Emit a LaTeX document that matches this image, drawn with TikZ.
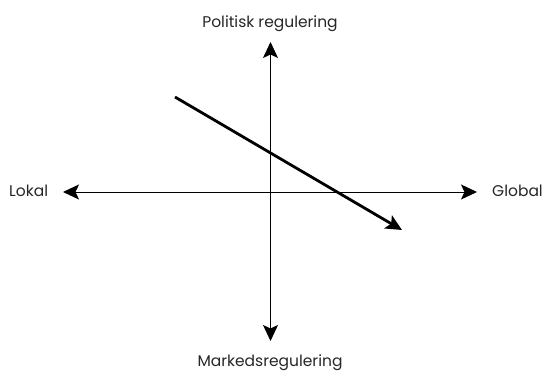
\documentclass[tikz,border=0pt]{standalone}
\usepackage{fontspec}
\setmainfont{Poppins}
\usetikzlibrary{arrows.meta}
\begin{document}
\begin{tikzpicture}[x=1pt,y=-1pt,
  axis/.style={line width=0.9pt,-{Stealth[length=16pt,width=15pt,inset=3.5pt]}},
  trend/.style={line width=2.8pt,-{Stealth[length=16pt,width=15pt,inset=3.5pt]}},
  lbl/.style={font=\fontsize{15.5}{18}\selectfont,inner sep=0pt,text=black!85}]
\useasboundingbox (0,0) rectangle (544,371);
\coordinate (c) at (270.5,192);
\coordinate (top) at (270.5,42);
\coordinate (bot) at (270.5,341);
\coordinate (left) at (63,192);
\coordinate (right) at (477,192);
\coordinate (s) at (175,97);
\coordinate (e) at (402,230);
\draw[axis] (c) -- (top);
\draw[axis] (c) -- (bot);
\draw[axis] (c) -- (left);
\draw[axis] (c) -- (right);
\draw[trend] (s) -- (e);
\node[lbl,anchor=base] (pol) at (270,28) {Politisk regulering};
\node[lbl,anchor=base] (mark) at (270,367) {Markedsregulering};
\node[lbl,anchor=base west] (lok) at (9,197) {Lokal};
\node[lbl,anchor=base east] (glo) at (543,197) {Global};
\end{tikzpicture}
\end{document}
